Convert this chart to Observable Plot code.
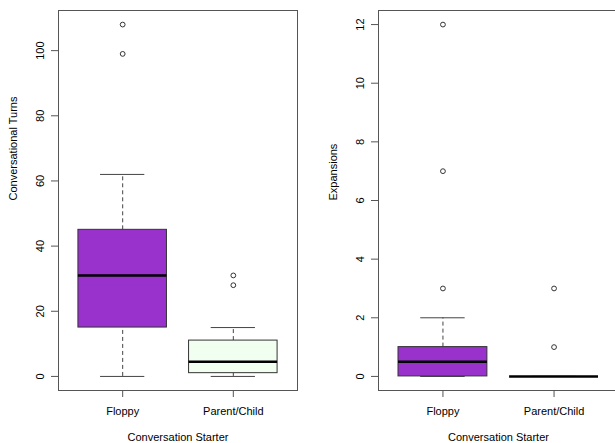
<!DOCTYPE html>
<html>
<head>
<meta charset="utf-8">
<script src="https://cdn.jsdelivr.net/npm/d3@7"></script>
<script src="https://cdn.jsdelivr.net/npm/@observablehq/plot@0.6"></script>
<style>
  html, body { margin: 0; padding: 0; background: #fff; overflow: hidden; }
  #wrap { position: relative; width: 615px; height: 443px; overflow: hidden; }
  #wrap > div { position: absolute; top: 0; }
  #wrap svg { max-width: none !important; }
  svg { font-family: "Liberation Sans", Arial, sans-serif; }
</style>
</head>
<body>
<div id="wrap"><div id="left" style="left:0px;width:307px"></div><div id="right" style="left:307px;width:311px"></div></div>
<script>
// Categories
const categories = ["Floppy", "Parent/Child"];
const fills = ["#9932CC", "#F0FFF0"];

// Panel 1: Conversational Turns (box stats per category)
const turnsLower  = [0, 0];
const turnsQ1     = [15, 1];
const turnsMedian = [31, 4.5];
const turnsQ3     = [45, 11];
const turnsUpper  = [62, 15];
const turnsOutliers = [[99, 108], [28, 31]];
const turnsTicks = [0, 20, 40, 60, 80, 100];

// Panel 2: Expansions
const expLower  = [0, 0];
const expQ1     = [0, 0];
const expMedian = [0.5, 0];
const expQ3     = [1, 0];
const expUpper  = [2, 0];
const expOutliers = [[3, 7, 12], [1, 3]];
const expTicks = [0, 2, 4, 6, 8, 10, 12];

function makeBoxplot({lower, q1, median, q3, upper, outliers, ticks, yDomain, ylabel, width, marginLeft, marginRight}) {
  const boxes = categories.map((c, i) => ({
    cat: c, i: i + 1, lower: lower[i], q1: q1[i], median: median[i], q3: q3[i], upper: upper[i], fill: fills[i]
  }));
  const outs = categories.flatMap((c, i) => outliers[i].map(v => ({i: i + 1, v})));
  const hw = 0.4, cw = 0.2;
  return Plot.plot({
    width, height: 443,
    marginTop: 10, marginBottom: 53, marginLeft, marginRight,
    style: {fontFamily: "'Liberation Sans', Arial, sans-serif", fontSize: "11px", color: "#000", background: "#fff"},
    x: {domain: [0.42, 2.58]},
    y: {domain: yDomain},
    marks: [
      // whiskers (dashed)
      Plot.ruleX(boxes, {x: "i", y1: "q3", y2: "upper", stroke: "#444", strokeDasharray: "4,3", strokeWidth: 1}),
      Plot.ruleX(boxes, {x: "i", y1: "lower", y2: "q1", stroke: "#444", strokeDasharray: "4,3", strokeWidth: 1}),
      // caps
      Plot.ruleY(boxes, {y: "upper", x1: d => d.i - cw, x2: d => d.i + cw, stroke: "#444", strokeWidth: 1}),
      Plot.ruleY(boxes, {y: "lower", x1: d => d.i - cw, x2: d => d.i + cw, stroke: "#444", strokeWidth: 1}),
      // boxes
      Plot.rect(boxes, {x1: d => d.i - hw, x2: d => d.i + hw, y1: "q1", y2: "q3", fill: "fill", stroke: "#333", strokeWidth: 1}),
      // medians
      Plot.ruleY(boxes, {y: "median", x1: d => d.i - hw, x2: d => d.i + hw, stroke: "#000", strokeWidth: 2.6}),
      // outliers
      Plot.dot(outs, {x: "i", y: "v", r: 2.4, stroke: "#333", fill: "none", strokeWidth: 1}),
      Plot.frame({stroke: "#555", strokeWidth: 1}),
      Plot.axisY({ticks, tickSize: 7, tickPadding: 8, tickRotate: -90, label: null, stroke: "#555", fontSize: 11}),
      Plot.axisX({ticks: [1, 2], tickFormat: d => categories[d - 1], tickSize: 7, tickPadding: 10, label: null, stroke: "#555", fontSize: 11}),
      Plot.text([ylabel], {text: d => d, frameAnchor: "left", dx: -45, rotate: -90, fontSize: 11, fill: "#000"}),
      Plot.text(["Conversation Starter"], {text: d => d, frameAnchor: "bottom", dy: 50, fontSize: 11, fill: "#000"})
    ]
  });
}

document.getElementById("left").append(makeBoxplot({
  lower: turnsLower, q1: turnsQ1, median: turnsMedian, q3: turnsQ3, upper: turnsUpper,
  outliers: turnsOutliers, ticks: turnsTicks, yDomain: [-4.32, 112.32],
  ylabel: "Conversational Turns", width: 307, marginLeft: 58, marginRight: 10
}));
document.getElementById("right").append(makeBoxplot({
  lower: expLower, q1: expQ1, median: expMedian, q3: expQ3, upper: expUpper,
  outliers: expOutliers, ticks: expTicks, yDomain: [-0.48, 12.48],
  ylabel: "Expansions", width: 311, marginLeft: 71, marginRight: 0
}));
</script>
</body>
</html>
